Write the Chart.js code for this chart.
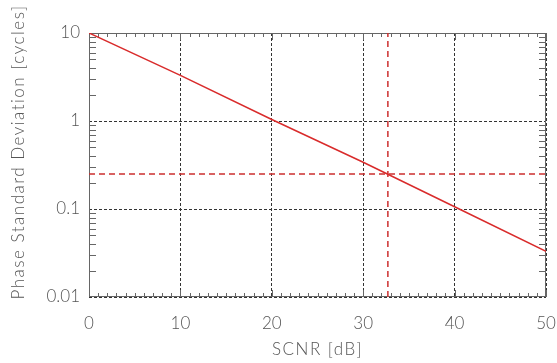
<!DOCTYPE html>
<html>
<head>
<meta charset="utf-8">
<script src="https://cdn.jsdelivr.net/npm/chart.js@4/dist/chart.umd.min.js"></script>
<style>
  html, body { margin: 0; padding: 0; background: #fff; }
  #wrap { width: 557px; height: 363px; }
</style>
</head>
<body>
<div id="wrap"><canvas id="phaseChart" width="557" height="363"></canvas></div>
<script>
// SCNR in dB and the phase standard deviation in cycles
const scnrDb = [0, 10, 20, 30, 40, 50];
const phaseStd = [10, 3.3, 1.04, 0.34, 0.106, 0.033];

// threshold marks
const phaseLimit = 0.25;
const scnrAtLimit = 32.7;

// axis ticks
const xTicks = [0, 10, 20, 30, 40, 50];
const yTicks = [0.01, 0.1, 1, 10];
const xMinorStep = 1;
const yMinorMult = [2, 3, 4, 5, 6, 7, 8, 9];

const textColor = '#555';
const frameColor = '#666';
const fontFamily = 'Lato, "DejaVu Sans", sans-serif';

// frame, minor ticks and axis titles
const framePlugin = {
  id: 'frame',
  beforeDatasetsDraw(chart) {
    const { ctx, chartArea: a, scales: { x, y } } = chart;
    ctx.save();
    ctx.strokeStyle = frameColor;
    ctx.lineWidth = 1;
    ctx.strokeRect(a.left + 0.5, a.top + 0.5, a.right - a.left - 1, a.bottom - a.top - 1);

    ctx.beginPath();
    // x minor ticks, bottom and top
    for (let v = x.min; v <= x.max; v += xMinorStep) {
      const px = Math.round(x.getPixelForValue(v)) + 0.5;
      const len = xTicks.includes(v) ? 7 : 4;
      ctx.moveTo(px, a.bottom); ctx.lineTo(px, a.bottom - len);
      ctx.moveTo(px, a.top); ctx.lineTo(px, a.top + len);
    }
    // y minor ticks, left and right
    for (let i = 0; i < yTicks.length - 1; i++) {
      yMinorMult.forEach(m => {
        const py = Math.round(y.getPixelForValue(yTicks[i] * m)) + 0.5;
        ctx.moveTo(a.left, py); ctx.lineTo(a.left + 7, py);
        ctx.moveTo(a.right, py); ctx.lineTo(a.right - 7, py);
      });
    }
    ctx.stroke();

    // axis titles
    ctx.fillStyle = textColor;
    ctx.font = '300 17px ' + fontFamily;
    ctx.letterSpacing = '1.5px';
    ctx.textAlign = 'center';
    ctx.textBaseline = 'middle';
    ctx.fillText('SCNR [dB]', (a.left + a.right) / 2, 350);
    ctx.translate(19, 152);
    ctx.rotate(-Math.PI / 2);
    ctx.fillText('Phase Standard Deviation [cycles]', 0, 0);
    ctx.restore();
  }
};

new Chart(document.getElementById('phaseChart'), {
  type: 'line',
  data: {
    datasets: [
      {
        data: scnrDb.map((s, i) => ({ x: s, y: phaseStd[i] })),
        borderColor: '#d92b2b',
        borderWidth: 1.5,
        pointRadius: 0,
        tension: 0
      },
      {
        data: [{ x: xTicks[0], y: phaseLimit }, { x: xTicks[xTicks.length - 1], y: phaseLimit }],
        borderColor: '#cc2f2f',
        borderWidth: 1.5,
        borderDash: [6, 4],
        pointRadius: 0
      },
      {
        data: [{ x: scnrAtLimit, y: yTicks[0] }, { x: scnrAtLimit, y: yTicks[yTicks.length - 1] }],
        borderColor: '#cc2f2f',
        borderWidth: 1.5,
        borderDash: [6, 4],
        pointRadius: 0
      }
    ]
  },
  options: {
    responsive: false,
    animation: false,
    layout: { padding: { left: 0, top: 33, right: 11, bottom: 0 } },
    plugins: { legend: { display: false }, tooltip: { enabled: false } },
    scales: {
      x: {
        type: 'linear',
        min: 0,
        max: 50,
        afterBuildTicks: s => { s.ticks = xTicks.map(v => ({ value: v })); },
        afterFit: s => { s.height = 66; s.paddingLeft = 0; s.paddingRight = 0; },
        ticks: { color: textColor, font: { family: fontFamily, size: 17, weight: 300 }, padding: 16, maxRotation: 0 },
        grid: { color: '#333', lineWidth: 1, drawTicks: false },
        border: { display: false, dash: [3, 2] }
      },
      y: {
        type: 'logarithmic',
        min: 0.01,
        max: 10,
        afterBuildTicks: s => { s.ticks = yTicks.map(v => ({ value: v })); },
        afterFit: s => { s.width = 89; s.paddingTop = 0; s.paddingBottom = 0; },
        ticks: {
          color: textColor,
          font: { family: fontFamily, size: 17, weight: 300 },
          padding: 9,
          callback: v => String(v)
        },
        grid: { color: '#333', lineWidth: 1, drawTicks: false },
        border: { display: false, dash: [3, 2] }
      }
    }
  },
  plugins: [framePlugin]
});
</script>
</body>
</html>
